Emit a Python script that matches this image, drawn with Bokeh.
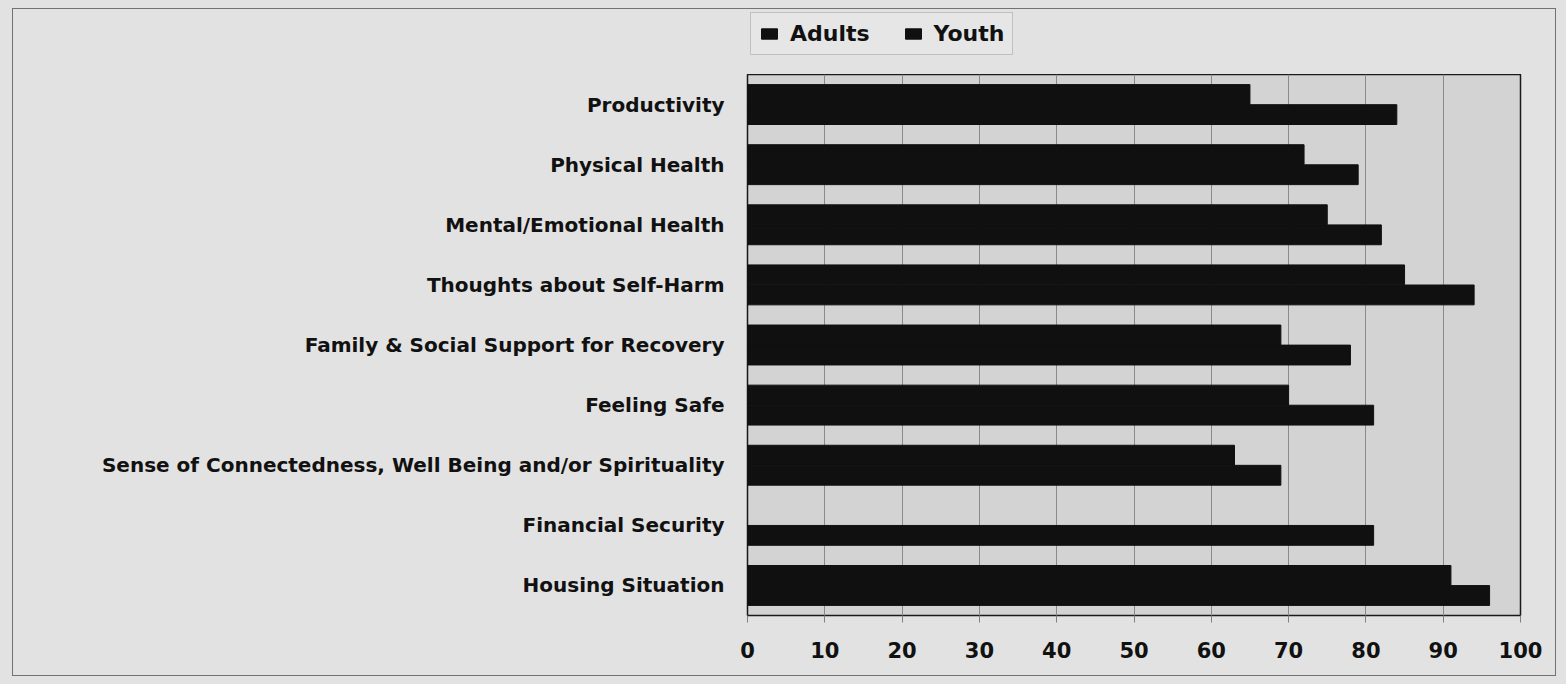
from bokeh.plotting import figure
from bokeh.layouts import column
from bokeh.models import (ColumnDataSource, FactorRange, Range1d, Legend, LegendItem,
                          FixedTicker, InlineStyleSheet)
from bokeh.transform import dodge
from bokeh.embed import file_html
from bokeh.resources import INLINE

# Outcome domains, listed top to bottom
categories = [
    "Productivity",
    "Physical Health",
    "Mental/Emotional Health",
    "Thoughts about Self-Harm",
    "Family & Social Support for Recovery",
    "Feeling Safe",
    "Sense of Connectedness, Well Being and/or Spirituality",
    "Financial Security",
    "Housing Situation",
]

# Percent reporting improvement (no adult figure for Financial Security)
adults = [65, 72, 75, 85, 69, 70, 63, float("nan"), 91]
youth = [84, 79, 82, 94, 78, 81, 69, 81, 96]

series = ["Adults", "Youth"]
series_cols = ["adults", "youth"]
x_ticks = [0, 10, 20, 30, 40, 50, 60, 70, 80, 90, 100]

src = ColumnDataSource(dict(cat=categories, adults=adults, youth=youth))

LABEL_FONT = "DejaVu Sans"
BAR_COLOR = "#101010"
PAGE_BG = "#e2e2e2"

# ---- legend strip above the chart ----
# Its own ranges hold none of the categories, so the bars only feed the legend swatches.
leg = figure(
    width=1566, height=74,
    x_range=Range1d(0, 100), y_range=FactorRange(*series),
    output_backend="svg", toolbar_location=None,
    x_axis_location=None, y_axis_location=None,
    min_border_left=0, min_border_right=0, min_border_top=0, min_border_bottom=0,
)
leg.background_fill_color = PAGE_BG
leg.border_fill_color = PAGE_BG
leg.outline_line_color = None
leg.xgrid.visible = False
leg.ygrid.visible = False
swatches = [leg.hbar(y="cat", left=0, right=col, height=0.3, source=src,
                     fill_color=BAR_COLOR, line_color=BAR_COLOR)
            for col in series_cols]

# the column aligns this strip's frame with the chart's plot area below
legend = Legend(
    items=[LegendItem(label=name, renderers=[r]) for name, r in zip(series, swatches)],
    orientation="horizontal",
    location=(3, 19),
    glyph_width=20, glyph_height=13,
    label_standoff=11, spacing=33, padding=8, margin=0,
    label_text_font=LABEL_FONT, label_text_font_style="bold",
    label_text_font_size="22px", label_text_color="#111111",
    border_line_color="#9a9a9a", border_line_width=1,
    background_fill_color="#e6e6e6", background_fill_alpha=1,
)
leg.add_layout(legend)

# ---- bar chart ----
p = figure(
    width=1566, height=610,
    y_range=FactorRange(*categories[::-1]),
    x_range=Range1d(0, 100),
    output_backend="svg", toolbar_location=None,
    min_border_left=747, min_border_right=46,
    min_border_top=0, min_border_bottom=69,
)

p.hbar(y=dodge("cat", 0.167, range=p.y_range), left=0, right="adults",
       height=0.33, source=src, fill_color=BAR_COLOR, line_color=BAR_COLOR)
p.hbar(y=dodge("cat", -0.167, range=p.y_range), left=0, right="youth",
       height=0.33, source=src, fill_color=BAR_COLOR, line_color=BAR_COLOR)

p.background_fill_color = "#d3d3d3"
p.border_fill_color = PAGE_BG
p.outline_line_color = "#1a1a1a"
p.outline_line_width = 1.5

p.ygrid.grid_line_color = None
p.xgrid.grid_line_color = "#8a8a8a"
p.xgrid.grid_line_width = 1

p.xaxis.ticker = FixedTicker(ticks=x_ticks)
p.xaxis.axis_line_color = None
p.xaxis.major_tick_in = 0
p.xaxis.major_tick_out = 7
p.xaxis.major_tick_line_color = "#808080"
p.xaxis.minor_tick_line_color = None
p.xaxis.major_label_standoff = 19
p.xaxis.major_label_text_font = LABEL_FONT
p.xaxis.major_label_text_font_style = "bold"
p.xaxis.major_label_text_font_size = "21px"
p.xaxis.major_label_text_color = "#111111"

p.yaxis.axis_line_color = None
p.yaxis.major_tick_line_color = None
p.yaxis.minor_tick_line_color = None
p.yaxis.major_label_standoff = 17
p.yaxis.major_label_text_font = LABEL_FONT
p.yaxis.major_label_text_font_style = "bold"
p.yaxis.major_label_text_font_size = "20px"
p.yaxis.major_label_text_color = "#111111"

# Grey page behind both parts, thin grey border around the whole chart
chart = column(leg, p, spacing=0, stylesheets=[InlineStyleSheet(css="""
:host { background: #e2e2e2; }
:host::after {
  content: "";
  position: absolute;
  left: 12px; top: 8px; width: 1544px; height: 668px;
  border: 1.5px solid #727272;
  box-sizing: border-box;
  pointer-events: none;
  z-index: 50;
}
""")])

open("out.html", "w").write(file_html(chart, INLINE))
